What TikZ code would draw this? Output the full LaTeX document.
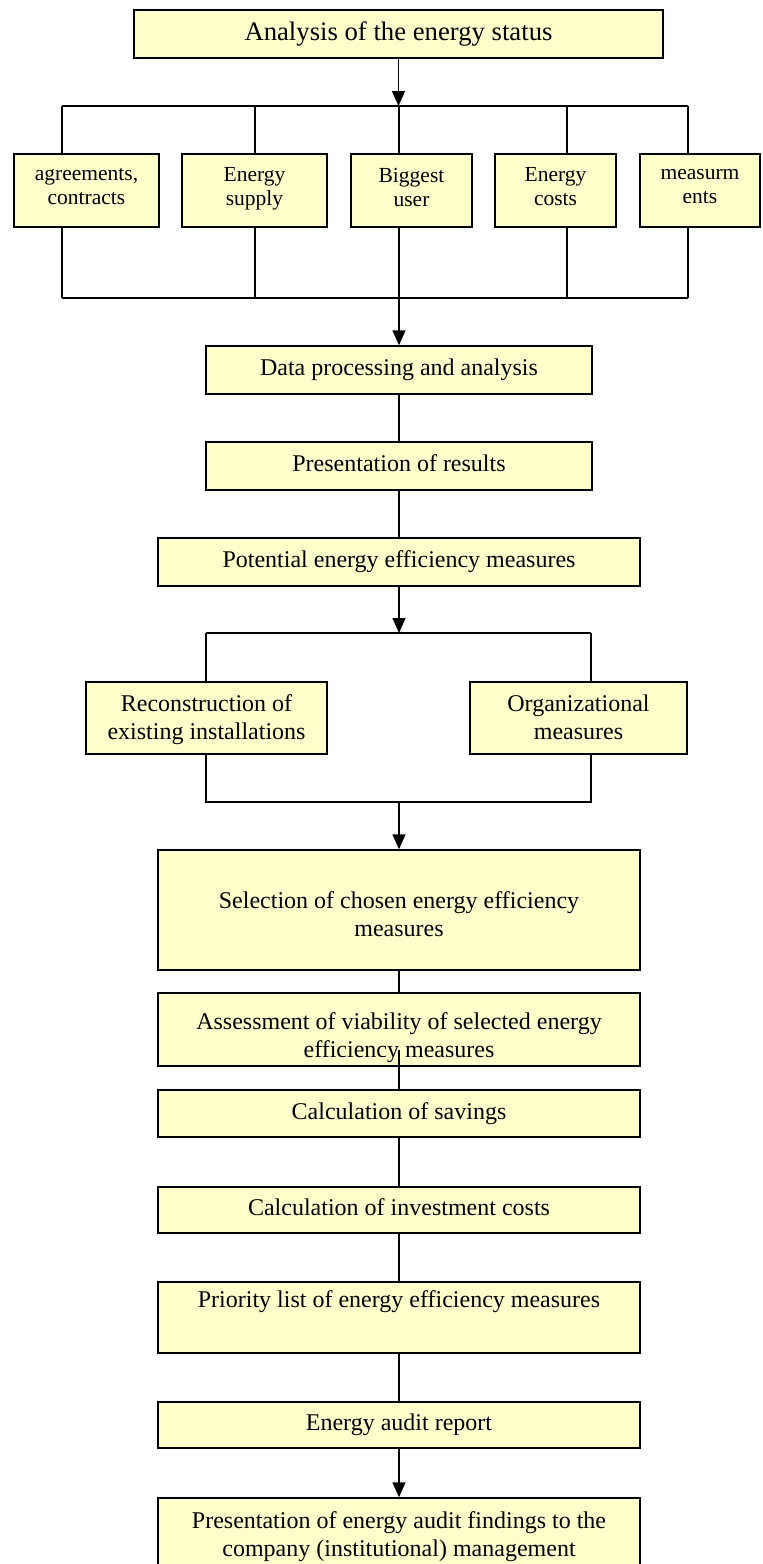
\documentclass[tikz,border=0pt]{standalone}
\usepackage{fontspec}
\setmainfont{Liberation Serif}
\usepackage{tikz}
\usetikzlibrary{arrows.meta,positioning,calc}
\definecolor{boxfill}{RGB}{255,255,204}
\tikzset{
  stepbox/.style={draw, line width=1.5pt, fill=boxfill, align=center, inner sep=0pt,
    font=\fontsize{24}{28}\selectfont, execute at begin node=\strut, execute at end node=\strut},
  smallbox/.style={stepbox, minimum height=73pt, font=\fontsize{21.5}{24}\selectfont,
    execute at begin node={\rule{0pt}{24pt}}},
  widebox/.style={stepbox, minimum width=482pt},
  link/.style={line width=1.5pt},
  arr/.style={link, -{Triangle[width=13pt,length=15pt]}}
}

\begin{document}
\begin{tikzpicture}[x=1pt,y=-1pt]
    \clip (0,0) rectangle (763,1564);
    \fill[white] (0,0) rectangle (763,1564);

    \node[stepbox, minimum width=529pt, minimum height=48pt, font=\fontsize{26.7}{30}\selectfont]
        (top) at (398.5,34) {Analysis of the energy status};

    \node[smallbox, minimum width=145pt] (b1) at (86.5,190.5) {agreements,\\contracts};
    \node[smallbox, minimum width=145pt] (b2) at (254.5,190.5) {Energy\\supply};
    \node[smallbox, minimum width=121pt] (b3) at (411.5,190.5) {Biggest\\user};
    \node[smallbox, minimum width=121pt] (b4) at (555.5,190.5) {Energy\\costs};
    \node[smallbox, minimum width=120pt] (b5) at (700,190.5) {measurm\\ents};

    \node[stepbox, minimum width=386pt, minimum height=48pt] (data) at (399,370) {Data processing and analysis};
    \node[stepbox, minimum width=386pt, minimum height=48pt] (pres) at (399,466) {Presentation of results};
    \node[widebox, minimum height=48pt] (pot) at (399,562) {Potential energy efficiency measures};

    \node[stepbox, minimum width=241pt, minimum height=72pt] (recon) at (206.5,718) {\rule{0pt}{24pt}Reconstruction of\\existing installations};
    \node[stepbox, minimum width=217pt, minimum height=72pt] (org) at (578.5,718) {\rule{0pt}{24pt}Organizational\\measures};

    \node[widebox, minimum height=120pt] (sel) at (399,910) {\rule{0pt}{33pt}Selection of chosen energy efficiency\\measures};
    \node[widebox, minimum height=71pt] (assess) at (399,1029.5) {\rule{0pt}{37pt}Assessment of viability of selected energy\\efficiency measures};
    \node[widebox, minimum height=47pt] (sav) at (399,1113.5) {Calculation of savings};
    \node[widebox, minimum height=46pt] (inv) at (399,1210) {Calculation of investment costs};
    \node[widebox, minimum height=71pt] (prio) at (399,1317.5) {Priority list of energy efficiency measures\\};
    \node[widebox, minimum height=46pt] (audit) at (399,1425) {Energy audit report};
    \node[widebox, minimum height=80pt] (final) at (399,1538) {Presentation of energy audit findings to the\\company (institutional) management};

    \coordinate (tbus) at (0,106);
    \coordinate (bbus) at (0,298);
    \coordinate (x1) at (62,0);
    \coordinate (x2) at (255,0);
    \coordinate (x3) at (399,0);
    \coordinate (x4) at (567,0);
    \coordinate (x5) at (688,0);
    \coordinate (ul) at (206,633);
    \coordinate (ur) at (591,633);
    \coordinate (ll) at (206,802);
    \coordinate (lr) at (591,802);
    \coordinate (acut) at (399,1050);

    \draw[arr] (top.south) -- (top.south |- tbus);
    \draw[link] (x1 |- tbus) -- (x5 |- tbus);
    \draw[link] (x1 |- bbus) -- (x5 |- bbus);
    \foreach \i in {1,...,5} {
        \draw[link] (x\i |- tbus) -- (x\i |- b\i.north);
        \draw[link] (x\i |- b\i.south) -- (x\i |- bbus);
    }
    \draw[arr] (x3 |- bbus) -- (data.north);
    \draw[link] (data) -- (pres);
    \draw[link] (pres) -- (pot);

    \draw[arr] (pot.south) -- (pot.south |- ul);
    \draw[link] (ul) -- (ur);
    \draw[link] (ul) -- (ul |- recon.north);
    \draw[link] (ur) -- (ur |- org.north);
    \draw[link] (ll |- recon.south) -- (ll) -- (lr) -- (lr |- org.south);
    \draw[arr] (pot.south |- ll) -- (sel.north);

    \draw[link] (sel) -- (assess);
    \draw[link] (acut) -- (sav.north);
    \draw[link] (sav) -- (inv);
    \draw[link] (inv) -- (prio);
    \draw[link] (prio) -- (audit);
    \draw[arr] (audit.south) -- (final.north);
\end{tikzpicture}
\end{document}
